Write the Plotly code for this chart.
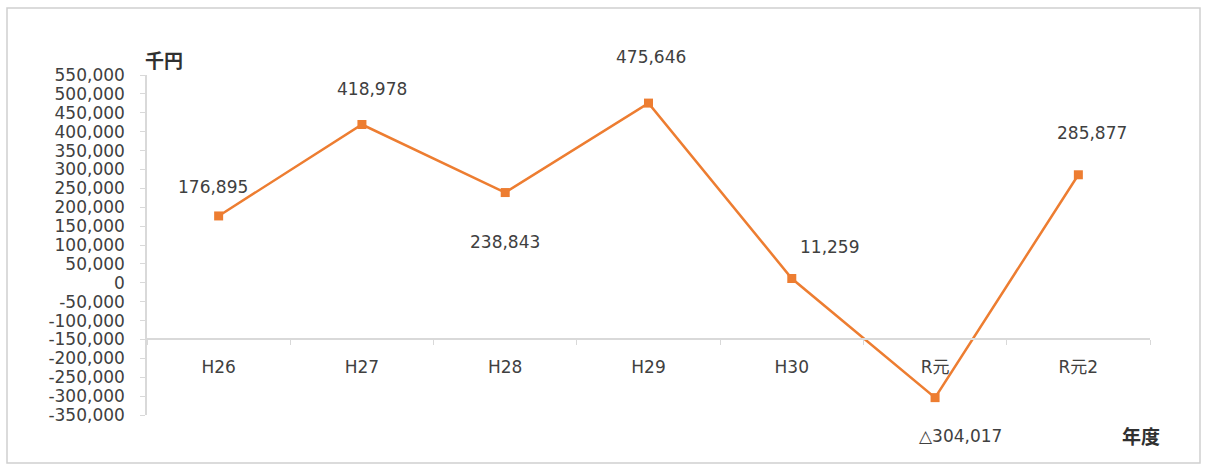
import plotly.graph_objects as go

categories = ["H26", "H27", "H28", "H29", "H30", "R元", "R元2"]
values = [176895, 418978, 238843, 475646, 11259, -304017, 285877]
value_labels = ["176,895", "418,978", "238,843", "475,646", "11,259", "△304,017", "285,877"]
y_tickvals = list(range(-350000, 550001, 50000))
y_ticktext = [f"{v:,}" for v in y_tickvals]

# label offsets (styling, px)
label_dx = [-6, 10, 0, 2, 38, 25, 14]
label_dy = [29, 36, -49, 46, 32, -38, 42]

FONT = "DejaVu Sans, Noto Sans CJK JP"
ORANGE = "#ED7D31"

fig = go.Figure()
fig.add_trace(go.Scatter(
    x=categories, y=values, mode="lines+markers",
    line=dict(color=ORANGE, width=2.5),
    marker=dict(symbol="square", size=9, color=ORANGE),
    hoverinfo="skip", showlegend=False, cliponaxis=False,
))

for c, v, t, dx, dy in zip(categories, values, value_labels, label_dx, label_dy):
    fig.add_annotation(x=c, y=v, text=t, showarrow=False, xshift=dx, yshift=dy,
                       font=dict(family=FONT, size=17, color="#404040"))

fig.add_annotation(xref="paper", yref="paper", x=(143 - 147) / 1003, y=(415 - 48) / 340,
                   text="<b>千円</b>", showarrow=False,
                   font=dict(family=FONT, size=19, color="#303030"))
fig.add_annotation(xref="paper", yref="paper", x=(1162 - 147) / 1003, y=(415 - 450) / 340,
                   text="<b>年度</b>", showarrow=False,
                   font=dict(family=FONT, size=19, color="#303030"))

fig.add_shape(type="rect", xref="paper", yref="paper",
              x0=(7 - 147) / 1003, x1=(1200 - 147) / 1003,
              y0=(415 - 463) / 340, y1=(415 - 8) / 340,
              line=dict(color="#D0D0D0", width=1.5), layer="below")

fig.update_layout(
    width=1208, height=469,
    margin=dict(l=147, r=58, t=75, b=54, autoexpand=False),
    paper_bgcolor="white", plot_bgcolor="white",
    xaxis=dict(
        type="category", range=[-0.5, 6.5], anchor="free",
        position=(-150000 - (-350000)) / 900000,
        showline=True, linecolor="#D9D9D9", linewidth=2,
        ticks="outside", tickson="boundaries", ticklen=5, tickcolor="#D9D9D9",
        showgrid=False, zeroline=False,
        tickfont=dict(family=FONT, size=17, color="#404040"),
        ticklabelstandoff=12,
    ),
    yaxis=dict(
        range=[-350000, 550000], tickvals=y_tickvals, ticktext=y_ticktext,
        showline=True, linecolor="#D9D9D9", linewidth=1.5,
        ticks="outside", ticklen=5, tickcolor="#D9D9D9",
        showgrid=False, zeroline=False,
        tickfont=dict(family=FONT, size=17, color="#404040"),
        ticklabelstandoff=12,
    ),
)

fig.write_html("out.html")
